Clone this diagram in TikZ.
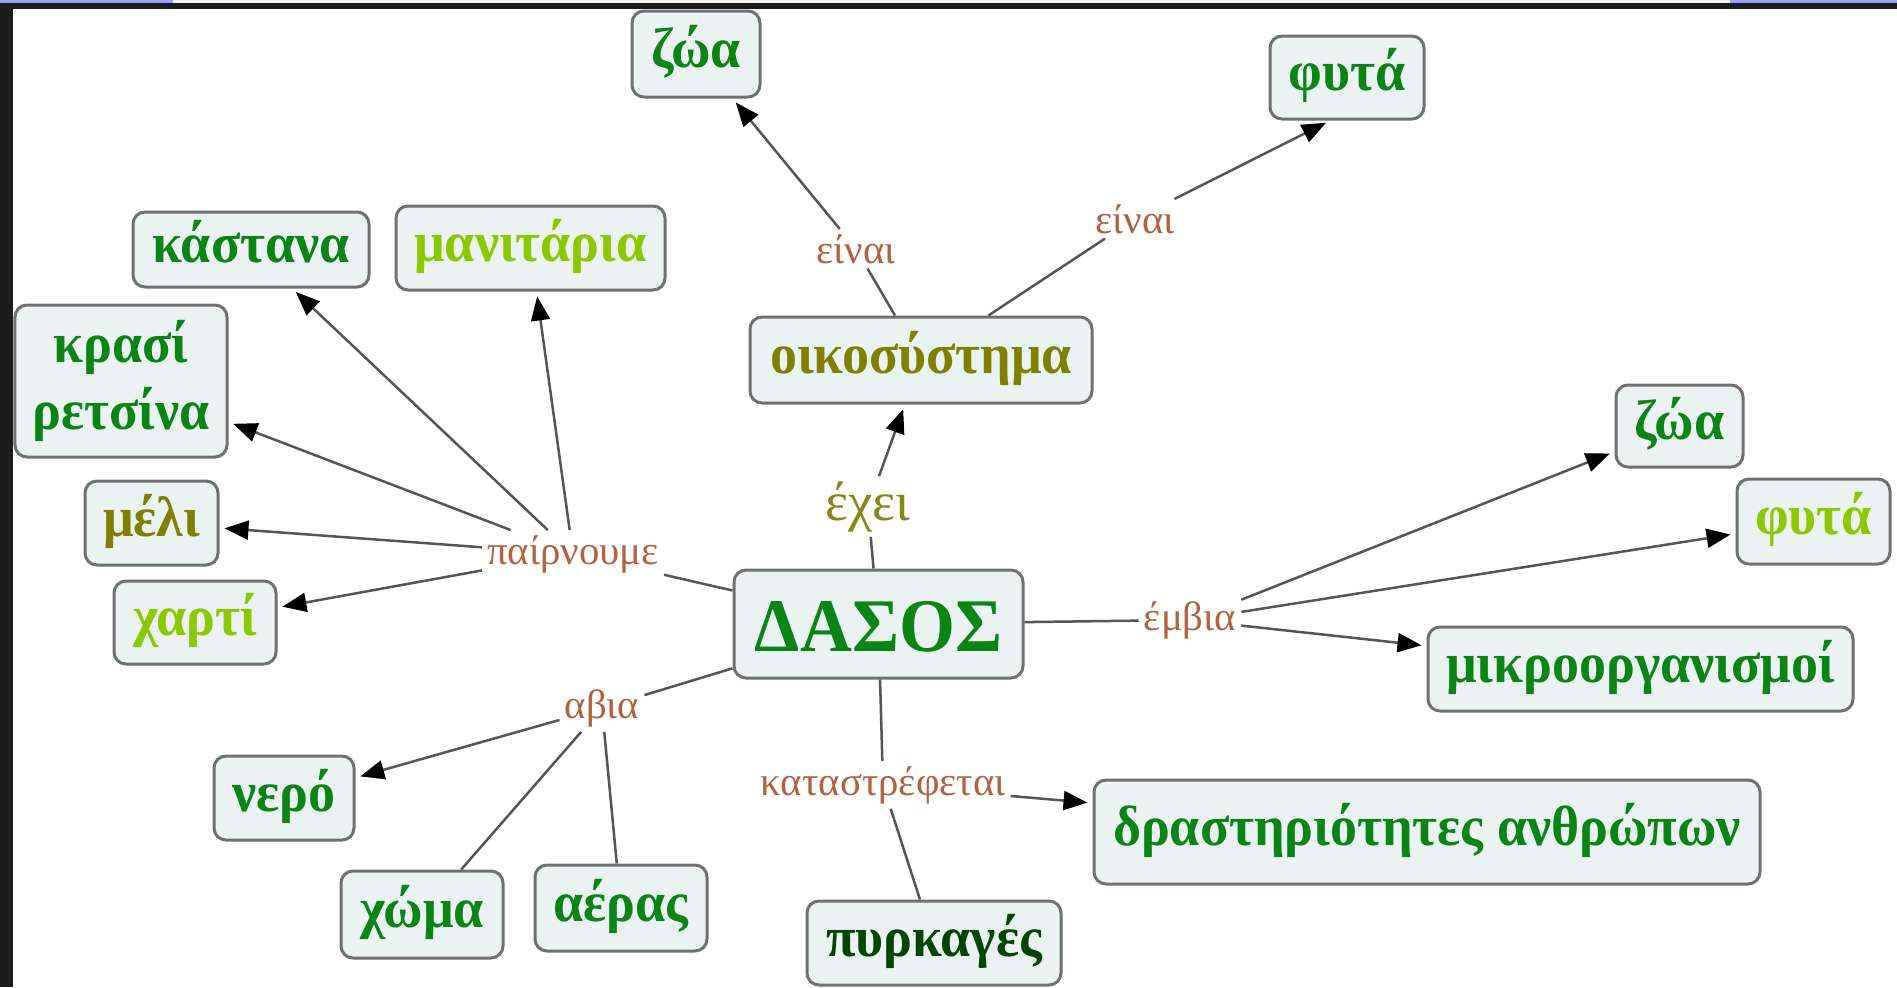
\documentclass[tikz,border=0pt]{standalone}
\usepackage{fontspec}
\setmainfont{Liberation Serif}
\newfontfamily\gr[FakeStretch=0.95]{Liberation Serif}
\newfontfamily\grl{Liberation Serif}
\usetikzlibrary{arrows.meta}

\definecolor{boxfill}{RGB}{234,242,242}
\definecolor{boxline}{RGB}{112,112,112}
\definecolor{edgegray}{RGB}{85,85,85}
\definecolor{cgreen}{RGB}{10,132,20}
\definecolor{cyellow}{RGB}{140,200,0}
\definecolor{colive}{RGB}{128,128,0}
\definecolor{cdark}{RGB}{0,70,0}
\definecolor{linkbrown}{RGB}{178,98,62}
\definecolor{linkolive}{RGB}{135,135,25}
\definecolor{framedark}{RGB}{28,28,28}
\definecolor{framepurple}{RGB}{157,157,255}
\definecolor{framelight}{RGB}{244,242,236}

\tikzset{
  box/.style={draw=boxline, line width=3bp, fill=boxfill, rounded corners=12bp,
    inner sep=0pt, align=center, font=\gr\bfseries\fontsize{57}{67}\selectfont},
  oneline/.style={text height=38bp, text depth=12bp},
  lbl/.style={fill=white, inner sep=5bp, anchor=base, text=linkbrown,
    font=\grl\fontsize{41}{48}\selectfont},
  link/.style={draw=edgegray, line width=2.5bp},
  arr/.style={link, -{Triangle[length=24bp,width=19bp,color=black]}, shorten >=5bp},
}

\begin{document}
\begin{tikzpicture}[x=1bp,y=-1bp]
\useasboundingbox (0,0) rectangle (1897,987);
\fill[white] (0,0) rectangle (1897,987);

% concept boxes
\node[box, oneline, text=cgreen,  minimum width=128bp, minimum height=86bp] (zoaT) at (696,54) {ζώα};
\node[box, oneline, text=cgreen,  minimum width=154bp, minimum height=83bp] (phytaT) at (1347,77.5) {φυτά};
\node[box, oneline, text=cgreen,  minimum width=236bp, minimum height=75bp] (kastana) at (251,249.5) {κάστανα};
\node[box, oneline, text=cyellow, minimum width=269bp, minimum height=84bp] (manit) at (530.5,248) {μανιτάρια};
\node[box, text=cgreen, minimum width=212bp, minimum height=152bp] (krasi) at (121,381) {κρασί\\ρετσίνα};
\node[box, oneline, text=colive,  minimum width=133bp, minimum height=84bp] (meli) at (151.5,523) {μέλι};
\node[box, oneline, text=cyellow, minimum width=162bp, minimum height=83bp] (charti) at (195,622.5) {χαρτί};
\node[box, oneline, text=colive,  minimum width=342bp, minimum height=86bp] (oiko) at (921,360) {οικοσύστημα};
\node[box, text=cgreen, text height=64bp, text depth=10bp, font=\gr\bfseries\fontsize{76}{90}\selectfont,
      minimum width=289bp, minimum height=108bp] (dasos) at (878.5,624) {ΔΑΣΟΣ};
\node[box, oneline, text=cgreen,  minimum width=127bp, minimum height=82bp] (zoaR) at (1679.5,426) {ζώα};
\node[box, oneline, text=cyellow, minimum width=153bp, minimum height=85bp] (phytaR) at (1813.5,521.5) {φυτά};
\node[box, oneline, text=cgreen,  minimum width=425bp, minimum height=84bp] (mikro) at (1640.5,669) {μικροοργανισμοί};
\node[box, oneline, text=cgreen,  minimum width=666bp, minimum height=104bp] (drast) at (1427,832) {δραστηριότητες ανθρώπων};
\node[box, oneline, text=cdark,   minimum width=254bp, minimum height=84bp] (pyrk) at (934,943) {πυρκαγές};
\node[box, oneline, text=cgreen,  minimum width=140bp, minimum height=84bp] (nero) at (284,798) {νερό};
\node[box, oneline, text=cgreen,  minimum width=162bp, minimum height=87bp] (choma) at (422,914.5) {χώμα};
\node[box, oneline, text=cgreen,  minimum width=172bp, minimum height=86bp] (aeras) at (621,908) {αέρας};

% linking phrases
\node[lbl] (einaiL) at (856,263) {είναι};
\node[lbl] (einaiR) at (1135,233) {είναι};
\node[lbl, text=linkolive, font=\grl\fontsize{55}{62}\selectfont] (echei) at (868,520) {έχει};
\node[lbl] (pairn) at (573,564) {παίρνουμε};
\node[lbl] (embia) at (1190,630) {έμβια};
\node[lbl] (abia) at (602,718) {αβια};
\node[lbl] (katastr) at (883,795) {καταστρέφεται};

% connections
\draw[link] (oiko) -- (einaiL);
\draw[arr] (einaiL) -- (zoaT);
\draw[link] (oiko) -- (einaiR);
\draw[arr] (einaiR) -- (phytaT.249);
\draw[link] (dasos) -- (echei);
\draw[arr] (echei) -- (oiko);
\draw[link] (dasos) -- (pairn);
\draw[arr] (pairn) -- (kastana);
\draw[arr] (pairn) -- (manit);
\draw[arr] (pairn) -- (krasi);
\draw[arr] (pairn) -- (meli);
\draw[arr] (pairn) -- (charti);
\draw[link] (dasos) -- (embia);
\draw[arr] (embia) -- (zoaR);
\draw[arr] (embia) -- (phytaR);
\draw[arr] (embia) -- (mikro);
\draw[link] (dasos) -- (abia);
\draw[arr] (abia) -- (nero);
\draw[link] (abia) -- (choma);
\draw[link] (abia) -- (aeras);
\draw[link] (dasos) -- (katastr);
\draw[arr] (katastr) -- (drast);
\draw[link] (katastr) -- (pyrk);

% window frame
\fill[framelight] (173,0) rectangle (1730,3);
\fill[framepurple] (0,0) rectangle (173,3);
\fill[framepurple] (1730,0) rectangle (1897,3);
\fill[framedark] (0,3) rectangle (1897,9);
\fill[framedark] (0,3) rectangle (13,987);
\end{tikzpicture}
\end{document}
